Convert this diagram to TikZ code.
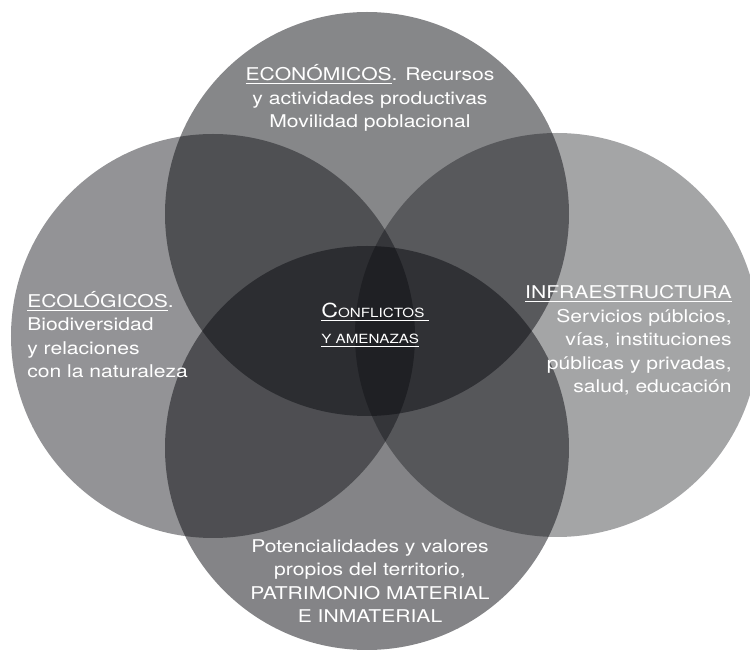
\documentclass[tikz,border=0pt]{standalone}
\usepackage{fontspec}
\setmainfont[FakeStretch=1.2]{TeX Gyre Heros}
\usepackage{tikz}
\usetikzlibrary{shapes}
\definecolor{vennfill}{RGB}{10,11,16}
\tikzset{
    venn/.style={circle, minimum size=8.08cm, inner sep=0pt, fill=vennfill, fill opacity=#1},
    lbl/.style={text=white, inner sep=0pt, font=\fontsize{10}{13.4}\selectfont},
}

\begin{document}
\begin{tikzpicture}

\path[use as bounding box, fill=white] (0,0) rectangle (15,13.1);

\node[venn=0.49] (econ) at (7.34,8.82) {};
\node[venn=0.44] (ecol) at (4.26,6.38) {};
\node[venn=0.37] (infra) at (11.14,6.40) {};
\node[venn=0.50] (patr) at (7.34,4.14) {};

% labels, placed by the baseline of their last line
\node[lbl, align=center, anchor=base] (teco) at (7.4,10.54) {\underline{ECONÓMICOS}. Recursos\\ y actividades productivas\\ Movilidad poblacional};
\node[lbl, align=left, anchor=base west] (tecol) at (0.54,5.54) {\underline{ECOLÓGICOS}.\\ Biodiversidad\\ y relaciones\\ con la naturaleza};
\node[lbl, align=right, anchor=base east] (tinfra) at (14.64,5.24) {\underline{INFRAESTRUCTURA}\\ Servicios públcios,\\ vías, instituciones\\ públicas y privadas,\\ salud, educación};
\node[lbl, align=center, anchor=base] (tpatr) at (7.4,0.64) {Potencialidades y valores\\ propios del territorio,\\ PATRIMONIO MATERIAL\\ E INMATERIAL};
\node[lbl, align=left, anchor=base west, font=\fontsize{7.2}{14.8}\selectfont] (tconf) at (6.42,6.22) {\underline{{\fontsize{11}{14.8}\selectfont C}ONFLICTOS\ }\\ \underline{Y AMENAZAS}};

\end{tikzpicture}
\end{document}
